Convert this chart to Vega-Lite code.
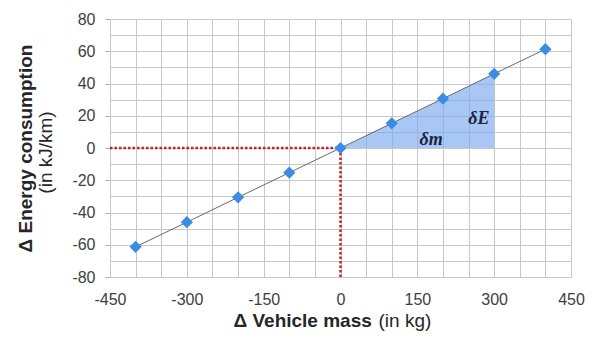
{
  "$schema": "https://vega.github.io/schema/vega-lite/v6.json",
  "width": 461,
  "height": 258,
  "autosize": "none",
  "padding": {"left": 110, "top": 19, "right": 21, "bottom": 61},
  "background": "white",
  "config": {
    "view": {"stroke": null},
    "font": "Liberation Sans",
    "axis": {
      "labelFont": "Liberation Sans",
      "titleFont": "Liberation Sans",
      "labelFontSize": 16,
      "labelColor": "#404040",
      "titleColor": "#262626",
      "titleFontSize": 19,
      "gridColor": "#c8c8c8",
      "gridWidth": 1,
      "gridOpacity": 1,
      "domain": false,
      "labelFlush": false,
      "labelOverlap": false,
      "labelBound": false
    }
  },
  "datasets": {
    "points": [
      {"mass": -400, "energy": -61.3},
      {"mass": -300, "energy": -46},
      {"mass": -200, "energy": -30.6},
      {"mass": -100, "energy": -15.3},
      {"mass": 0, "energy": 0},
      {"mass": 100, "energy": 15.3},
      {"mass": 200, "energy": 30.6},
      {"mass": 300, "energy": 46},
      {"mass": 400, "energy": 61.3}
    ],
    "triangle": [
      {"mass": 0, "energy": 0},
      {"mass": 300, "energy": 46}
    ],
    "guides": [
      {"mass": -450, "mass2": 0, "energy": 0, "energy2": 0},
      {"mass": 0, "mass2": 0, "energy": -80, "energy2": 0}
    ],
    "labels": [
      {"mass": 177, "energy": 5, "label": "δm"},
      {"mass": 270, "energy": 18, "label": "δE"}
    ]
  },
  "layer": [
    {
      "data": {"name": "triangle"},
      "mark": {"type": "area", "color": "#7aa9ee", "opacity": 0.65},
      "encoding": {
        "x": {
          "field": "mass", "type": "quantitative",
          "scale": {"domain": [-450, 450], "nice": false, "zero": false},
          "axis": {
            "orient": "bottom",
            "values": [-450, -400, -350, -300, -250, -200, -150, -100, -50, 0, 50, 100, 150, 200, 250, 300, 350, 400, 450],
            "labelExpr": "datum.value % 150 === 0 ? '' + datum.value : ''",
            "ticks": false,
            "labelPadding": 14,
            "grid": true,
            "title": "Δ Vehicle mass",
            "titleFontWeight": "bold",
            "titleAlign": "left",
            "titleBaseline": "middle",
            "titleX": 123,
            "titleY": 43
          }
        },
        "y": {
          "field": "energy", "type": "quantitative",
          "scale": {"domain": [-80, 80], "nice": false, "zero": false},
          "axis": {
            "orient": "left",
            "values": [-80, -70, -60, -50, -40, -30, -20, -10, 0, 10, 20, 30, 40, 50, 60, 70, 80],
            "labelExpr": "datum.value % 20 === 0 ? '' + datum.value : ''",
            "ticks": true,
            "tickSize": 5,
            "tickColor": "#b0b0b0",
            "tickOpacity": {"condition": {"test": "datum.value % 20 === 0", "value": 1}, "value": 0},
            "labelPadding": 10,
            "grid": true,
            "title": "Δ Energy consumption",
            "titleFontWeight": "bold",
            "titleAngle": -90,
            "titleAlign": "center",
            "titleBaseline": "middle",
            "titleX": -85,
            "titleY": 129
          }
        },
        "y2": {"datum": 0}
      }
    },
    {
      "data": {"name": "points"},
      "mark": {"type": "line", "color": "#6a6a6a", "strokeWidth": 1},
      "encoding": {
        "x": {
          "field": "mass", "type": "quantitative",
          "axis": {
            "orient": "bottom",
            "labels": false, "ticks": false, "grid": false, "domain": false,
            "title": "(in kg)",
            "titleFontWeight": "normal",
            "titleAlign": "left",
            "titleBaseline": "middle",
            "titleX": 268,
            "titleY": 43
          }
        },
        "y": {
          "field": "energy", "type": "quantitative",
          "axis": {
            "orient": "left",
            "labels": false, "ticks": false, "grid": false, "domain": false,
            "title": "(in kJ/km)",
            "titleFontWeight": "normal",
            "titleAngle": -90,
            "titleAlign": "center",
            "titleBaseline": "middle",
            "titleX": -65,
            "titleY": 133
          }
        }
      }
    },
    {
      "data": {"name": "guides"},
      "mark": {"type": "rule", "color": "#c0232b", "strokeWidth": 2.5, "strokeDash": [2.5, 2]},
      "encoding": {
        "x": {"field": "mass", "type": "quantitative", "axis": null},
        "x2": {"field": "mass2"},
        "y": {"field": "energy", "type": "quantitative", "axis": null},
        "y2": {"field": "energy2"}
      }
    },
    {
      "data": {"name": "points"},
      "mark": {"type": "point", "shape": "diamond", "filled": true, "size": 150, "color": "#3a8de6", "opacity": 1},
      "encoding": {
        "x": {"field": "mass", "type": "quantitative", "axis": null},
        "y": {"field": "energy", "type": "quantitative", "axis": null}
      }
    },
    {
      "data": {"name": "labels"},
      "mark": {"type": "text", "font": "Liberation Serif", "fontSize": 18, "fontWeight": "bold", "fontStyle": "italic", "color": "#1a2340", "align": "center", "baseline": "middle"},
      "encoding": {
        "x": {"field": "mass", "type": "quantitative", "axis": null},
        "y": {"field": "energy", "type": "quantitative", "axis": null},
        "text": {"field": "label"}
      }
    }
  ],
  "resolve": {"axis": {"x": "independent", "y": "independent"}}
}
